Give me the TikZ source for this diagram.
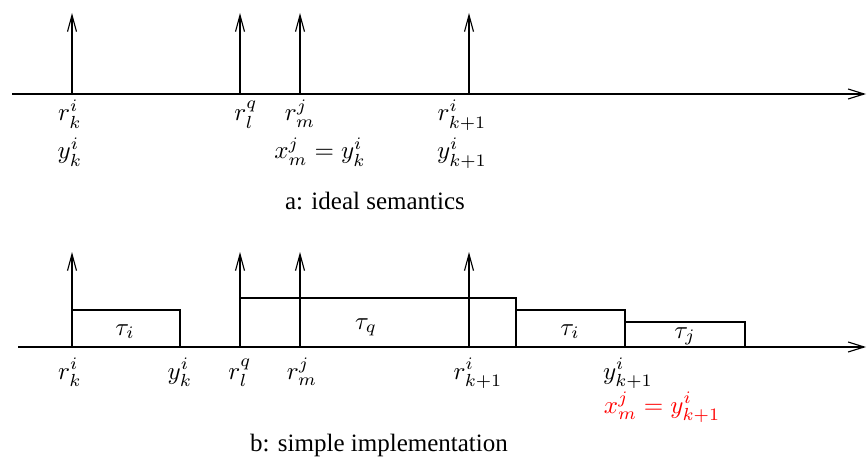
\documentclass[tikz,border=0pt]{standalone}
\usepackage{fontspec}
\setmainfont{Liberation Serif}
\usetikzlibrary{arrows.meta}
\begin{document}
\begin{tikzpicture}[x=0.4pt,y=-0.4pt,
  ln/.style={line width=0.45pt},
  axisline/.style={ln,-{Straight Barb[length=6.4pt,width=4pt]}},
  event/.style={ln,-{Straight Barb[length=6.6pt,width=3.6pt]}},
  taskbox/.style={ln,draw},
  lbl/.style={anchor=base,inner sep=0pt,font=\fontsize{10}{12}\selectfont},
  captext/.style={anchor=base,inner sep=0pt,font=\fontsize{10}{12}\selectfont}]
\useasboundingbox (0,0) rectangle (867,459);
% ---------- a: ideal semantics ----------
\coordinate (a0) at (12,94);
\coordinate (a1) at (866,94);
\draw[axisline] (a0) -- (a1);
\coordinate (ak) at (72,94);  \coordinate (akt) at (72,13);
\coordinate (al) at (240,94); \coordinate (alt) at (240,13);
\coordinate (am) at (300,94); \coordinate (amt) at (300,13);
\coordinate (ak1) at (469,94); \coordinate (ak1t) at (469,13);
\draw[event] (ak) -- (akt);
\draw[event] (al) -- (alt);
\draw[event] (am) -- (amt);
\draw[event] (ak1) -- (ak1t);
\node[lbl] (rka) at (70,121) {$r_k^i$};
\node[lbl] (yka) at (70,159) {$y_k^i$};
\node[lbl] (rla) at (246,121) {$r_l^q$};
\node[lbl] (rma) at (300,121) {$r_m^j$};
\node[lbl] (xma) at (320,159) {$x_m^j = y_k^i$};
\node[lbl] (rk1a) at (462,121) {$r_{k+1}^i$};
\node[lbl] (yk1a) at (462,159) {$y_{k+1}^i$};
\node[captext] (capa) at (375,210) {a: ideal semantics};
% ---------- b: simple implementation ----------
\coordinate (b0) at (18,347);
\coordinate (b1) at (866,347);
\draw[axisline] (b0) -- (b1);
\coordinate (bk) at (72,347);  \coordinate (bkt) at (72,252);
\coordinate (bl) at (240,347); \coordinate (blt) at (240,252);
\coordinate (bm) at (300,347); \coordinate (bmt) at (300,252);
\coordinate (bk1) at (469,347); \coordinate (bk1t) at (469,252);
\draw[event] (bk) -- (bkt);
\draw[event] (bl) -- (blt);
\draw[event] (bm) -- (bmt);
\draw[event] (bk1) -- (bk1t);
\draw[taskbox] (72,347) rectangle (180,310);
\draw[taskbox] (240,347) rectangle (516,298);
\draw[taskbox] (516,347) rectangle (625,310);
\draw[taskbox] (625,347) rectangle (745,322);
\node[lbl] (ti1) at (125,335) {$\tau_i$};
\node[lbl] (tq) at (366,329) {$\tau_q$};
\node[lbl] (ti2) at (570,335) {$\tau_i$};
\node[lbl] (tj) at (685,338) {$\tau_j$};
\node[lbl] (rkb) at (70,379) {$r_k^i$};
\node[lbl] (ykb) at (180,379) {$y_k^i$};
\node[lbl] (rlb) at (240,379) {$r_l^q$};
\node[lbl] (rmb) at (302,379) {$r_m^j$};
\node[lbl] (rk1b) at (478,379) {$r_{k+1}^i$};
\node[lbl] (yk1b) at (628,379) {$y_{k+1}^i$};
\node[lbl,text=red] (xmb) at (662,413) {$x_m^j = y_{k+1}^i$};
\node[captext] (capb) at (379,451) {b: simple implementation};
\end{tikzpicture}
\end{document}
